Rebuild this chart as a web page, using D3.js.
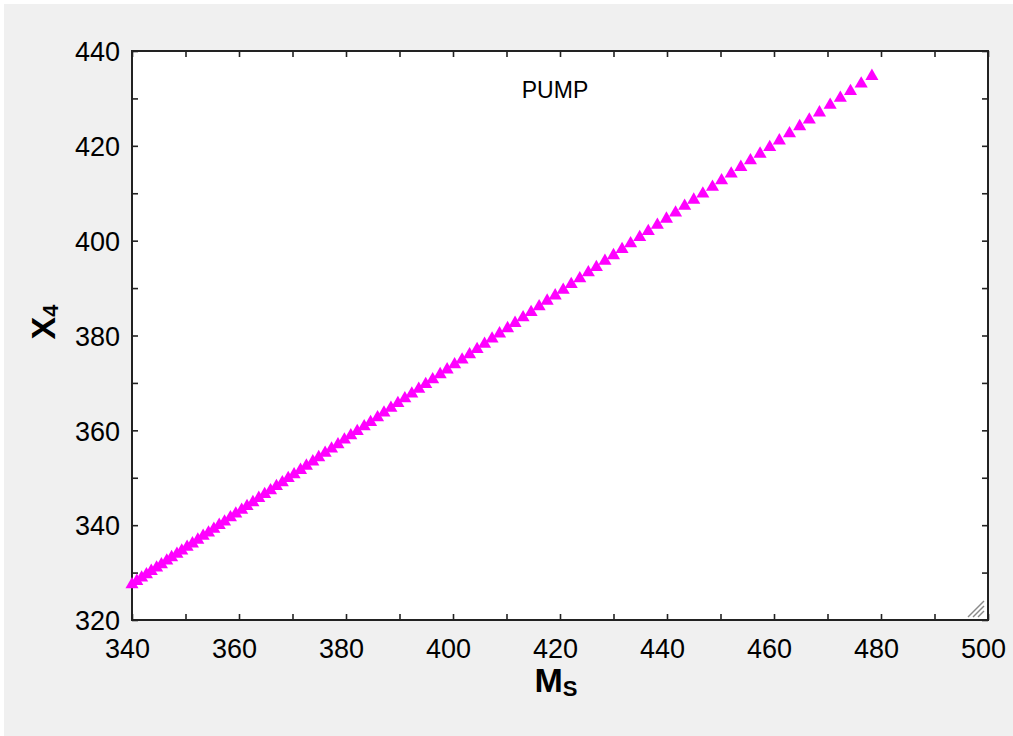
<!DOCTYPE html>
<html>
<head>
<meta charset="utf-8">
<script src="https://cdn.jsdelivr.net/npm/d3@7"></script>
<style>
  html, body { margin: 0; padding: 0; background: #ffffff; }
  svg { display: block; }
  text { font-family: "Liberation Sans", Arial, sans-serif; fill: #000; }
</style>
</head>
<body>
<svg id="chart" width="1013" height="736"></svg>
<script>
// PUMP operating line: X4 against Ms
const msValues = [
  340.0, 340.9, 341.8, 342.7, 343.6, 344.6, 345.5, 346.5, 347.4, 348.4,
  349.3, 350.3, 351.3, 352.3, 353.3, 354.3, 355.3, 356.3, 357.3, 358.4,
  359.4, 360.5, 361.5, 362.6, 363.7, 364.8, 365.9, 367.0, 368.1, 369.2,
  370.3, 371.5, 372.6, 373.8, 374.9, 376.1, 377.3, 378.5, 379.7, 380.9,
  382.1, 383.4, 384.6, 385.9, 387.1, 388.4, 389.7, 391.0, 392.3, 393.6,
  394.9, 396.2, 397.6, 398.9, 400.3, 401.7, 403.1, 404.5, 405.9, 407.3,
  408.7, 410.2, 411.6, 413.1, 414.6, 416.1, 417.6, 419.1, 420.6, 422.1,
  423.7, 425.3, 426.8, 428.4, 430.0, 431.6, 433.2, 434.9, 436.5, 438.2,
  439.9, 441.6, 443.3, 445.0, 446.7, 448.5, 450.2, 452.0, 453.8, 455.6,
  457.4, 459.2, 461.0, 462.9, 464.8, 466.6, 468.5, 470.5, 472.4, 474.3,
  476.3, 478.3
];
const x4Values = [
  327.5, 328.2, 328.9, 329.6, 330.3, 331.0, 331.7, 332.5, 333.2, 333.9,
  334.6, 335.4, 336.1, 336.9, 337.7, 338.4, 339.2, 340.0, 340.7, 341.6,
  342.4, 343.2, 344.0, 344.8, 345.7, 346.5, 347.3, 348.2, 349.0, 349.9,
  350.7, 351.6, 352.5, 353.4, 354.3, 355.2, 356.1, 357.0, 358.0, 358.9,
  359.8, 360.8, 361.7, 362.7, 363.7, 364.7, 365.7, 366.7, 367.7, 368.7,
  369.7, 370.7, 371.8, 372.8, 373.9, 374.9, 376.0, 377.1, 378.2, 379.3,
  380.4, 381.5, 382.6, 383.8, 384.9, 386.1, 387.3, 388.4, 389.6, 390.8,
  392.0, 393.3, 394.4, 395.7, 396.9, 398.2, 399.4, 400.7, 402.0, 403.3,
  404.6, 405.9, 407.3, 408.6, 409.9, 411.3, 412.7, 414.1, 415.5, 416.9,
  418.3, 419.7, 421.1, 422.6, 424.1, 425.5, 427.0, 428.6, 430.1, 431.5,
  433.1, 434.7
];

const xDomain = [340, 500];
const yDomain = [320, 440];
const xMajorTicks = [340, 360, 380, 400, 420, 440, 460, 480, 500];
const xMinorTicks = [350, 370, 390, 410, 430, 450, 470, 490];
const yMajorTicks = [320, 340, 360, 380, 400, 420, 440];
const yMinorTicks = [330, 350, 370, 390, 410, 430];
const seriesLabel = "PUMP";

const svg = d3.select("#chart");
const W = 1013, H = 736;
const plot = { left: 132, right: 988, top: 51, bottom: 620 };

// window background
svg.append("rect").attr("x", 4).attr("y", 4).attr("width", W - 4).attr("height", H - 4)
  .attr("fill", "#f0f0f0");

// plot area
svg.append("rect")
  .attr("x", plot.left).attr("y", plot.top)
  .attr("width", plot.right - plot.left).attr("height", plot.bottom - plot.top)
  .attr("fill", "#ffffff");

const x = d3.scaleLinear().domain(xDomain).range([plot.left, plot.right]);
const y = d3.scaleLinear().domain(yDomain).range([plot.bottom, plot.top]);

const tickLen = 6;
function styleAxis(g) {
  g.select(".domain").remove();
  g.selectAll(".tick line").attr("stroke", "#222").attr("stroke-width", 1.6);
  g.selectAll("text").attr("font-size", 27).attr("fill", "#000");
}

// bottom axis with labels
svg.append("g").attr("transform", `translate(0,${plot.bottom})`)
  .call(d3.axisBottom(x).tickValues(xMajorTicks).tickSizeInner(-tickLen).tickSizeOuter(0).tickPadding(19).tickFormat(d3.format("d")))
  .call(styleAxis)
  .call(g => g.selectAll("text").attr("dx", -5));
svg.append("g").attr("transform", `translate(0,${plot.bottom})`)
  .call(d3.axisBottom(x).tickValues(xMinorTicks).tickSizeInner(-tickLen).tickSizeOuter(0).tickFormat(""))
  .call(styleAxis);
// top axis, ticks only
svg.append("g").attr("transform", `translate(0,${plot.top})`)
  .call(d3.axisTop(x).tickValues(xMajorTicks.concat(xMinorTicks)).tickSizeInner(-tickLen).tickSizeOuter(0).tickFormat(""))
  .call(styleAxis);

// left axis with labels
svg.append("g").attr("transform", `translate(${plot.left},0)`)
  .call(d3.axisLeft(y).tickValues(yMajorTicks).tickSizeInner(-tickLen).tickSizeOuter(0).tickPadding(12).tickFormat(d3.format("d")))
  .call(styleAxis)
  .call(g => g.selectAll("text").attr("dy", "0.36em"));
svg.append("g").attr("transform", `translate(${plot.left},0)`)
  .call(d3.axisLeft(y).tickValues(yMinorTicks).tickSizeInner(-tickLen).tickSizeOuter(0).tickFormat(""))
  .call(styleAxis);
// right axis, ticks only
svg.append("g").attr("transform", `translate(${plot.right},0)`)
  .call(d3.axisRight(y).tickValues(yMajorTicks.concat(yMinorTicks)).tickSizeInner(-tickLen).tickSizeOuter(0).tickFormat(""))
  .call(styleAxis);

// frame
svg.append("rect")
  .attr("x", plot.left).attr("y", plot.top)
  .attr("width", plot.right - plot.left).attr("height", plot.bottom - plot.top)
  .attr("fill", "none").attr("stroke", "#222").attr("stroke-width", 2);

// data markers
const points = msValues.map((m, i) => ({ m, v: x4Values[i] }));
const tri = d3.symbol().type(d3.symbolTriangle).size(74);
svg.append("g").selectAll("path").data(points).join("path")
  .attr("d", tri)
  .attr("transform", d => `translate(${x(d.m)},${y(d.v)})`)
  .attr("fill", "#ff00ff");

// series label
svg.append("text")
  .attr("x", 555).attr("y", 98)
  .attr("text-anchor", "middle")
  .attr("font-size", 23)
  .attr("fill", "#111")
  .text(seriesLabel);

// axis titles
const xt = svg.append("text")
  .attr("x", 556).attr("y", 692)
  .attr("text-anchor", "middle")
  .attr("font-weight", "bold");
xt.append("tspan").attr("font-size", 34).text("M");
xt.append("tspan").attr("font-size", 22).attr("dy", 4).text("S");

const yt = svg.append("text")
  .attr("transform", "translate(55,322) rotate(-90)")
  .attr("text-anchor", "middle")
  .attr("font-weight", "bold");
yt.append("tspan").attr("font-size", 34).text("X");
yt.append("tspan").attr("font-size", 22).attr("dy", 3).text("4");

// resize grip in the lower right corner
const grip = svg.append("g").attr("stroke", "#8a8a8a").attr("stroke-width", 1.4);
[0, 5, 10].forEach(o => {
  grip.append("line")
    .attr("x1", plot.right - 4 - (16 - o)).attr("y1", plot.bottom - 3)
    .attr("x2", plot.right - 4).attr("y2", plot.bottom - 3 - (16 - o));
});
</script>
</body>
</html>
